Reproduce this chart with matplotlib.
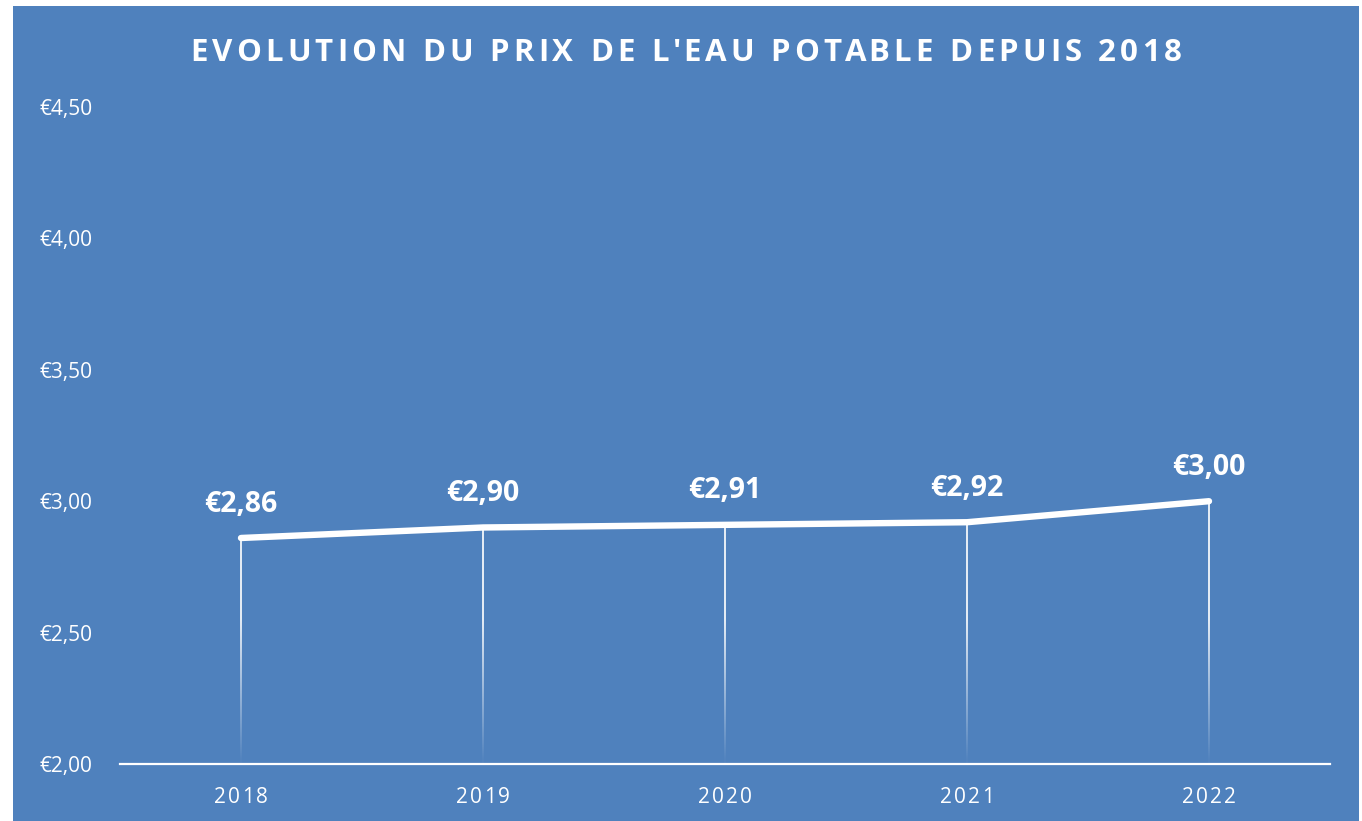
import matplotlib
matplotlib.use("Agg")
import matplotlib.pyplot as plt
import numpy as np
from matplotlib.patches import Rectangle

years = ["2018", "2019", "2020", "2021", "2022"]
prices = [2.86, 2.90, 2.91, 2.92, 3.00]
ytick_values = [2.0, 2.5, 3.0, 3.5, 4.0, 4.5]
title = "EVOLUTION DU PRIX DE L'EAU POTABLE DEPUIS 2018"

BG = "#4F81BD"
W, H = 1362, 821
plt.rcParams["font.family"] = ["Open Sans", "DejaVu Sans"]


def euro(v):
    return "€" + f"{v:.2f}".replace(".", ",")


def spaced_text(fig, s, cx, y, spacing=None, total_width=None, **kw):
    """Draw s centred on cx (pixels) with extra letter spacing."""
    renderer = fig.canvas.get_renderer()

    def width(txt):
        t = fig.text(0, 0, txt, **kw)
        w = t.get_window_extent(renderer).width
        t.remove()
        return w

    bar = width("|")
    offs = [width(s[:i] + "|") - bar for i in range(len(s) + 1)]
    if total_width is not None:
        spacing = (total_width - offs[-1]) / (len(s) - 1)
    total = offs[-1] + spacing * (len(s) - 1)
    x0 = cx - total / 2
    for i, ch in enumerate(s):
        if ch == " ":
            continue
        fig.text((x0 + offs[i] + i * spacing) / W, y / H, ch, ha="left", **kw)


fig = plt.figure(figsize=(W / 100, H / 100), dpi=100)
fig.patch.set_facecolor("white")
fig.patches.append(Rectangle((13 / W, 0), (1359 - 13) / W, (821 - 6) / H,
                             transform=fig.transFigure, facecolor=BG, edgecolor="none", zorder=-10))

ax = fig.add_axes([120 / W, (821 - 764) / H, (1330 - 120) / W, (764 - 107) / H])
ax.set_facecolor("none")
ax.set_zorder(1)
x = np.arange(len(years))

# drop lines fading toward the axis (thin gradient strips)
half = 0.6 / 242.5  # ~0.6 px in data units
for xi, yi in zip(x, prices):
    ys = np.linspace(yi, 2.0, 200)
    alpha = np.clip((ys - 2.0) / 0.55, 0.03, 1.0) * 0.85
    grad = np.ones((len(ys), 1, 4))
    grad[:, 0, 3] = alpha
    ax.imshow(grad, extent=(xi - half, xi + half, 2.0, yi), aspect="auto",
              interpolation="bilinear", zorder=2)

ax.set_xlim(-0.5, len(years) - 0.5)
ax.set_ylim(2.0, 4.5)

ax.plot(x, prices, color="white", lw=4.6, solid_capstyle="round", solid_joinstyle="round", zorder=3)

for xi, yi in zip(x, prices):
    ax.annotate(euro(yi), (xi, yi), xytext=(0, 19), textcoords="offset points",
                ha="center", va="baseline", color="white", fontsize=20.5, fontweight="bold")

for side in ["top", "right", "left"]:
    ax.spines[side].set_visible(False)
ax.spines["bottom"].set_color("white")
ax.spines["bottom"].set_linewidth(1.6)

ax.set_yticks(ytick_values)
ax.set_yticklabels([euro(v) for v in ytick_values], color="white", fontsize=15)
ax.tick_params(axis="y", length=0, pad=20)
ax.set_xticks([])

fig.canvas.draw()
for xi, yr in zip(x, years):
    px = ax.transData.transform((xi, 2.0))[0]
    spaced_text(fig, yr, px, 821 - 803, spacing=2.0, color="white", fontsize=15, va="baseline")

spaced_text(fig, title, 686, 821 - 61, total_width=992, color="white", fontsize=22.5,
            fontweight="bold", va="baseline")

fig.savefig("out.png", dpi=100, facecolor=fig.get_facecolor())
